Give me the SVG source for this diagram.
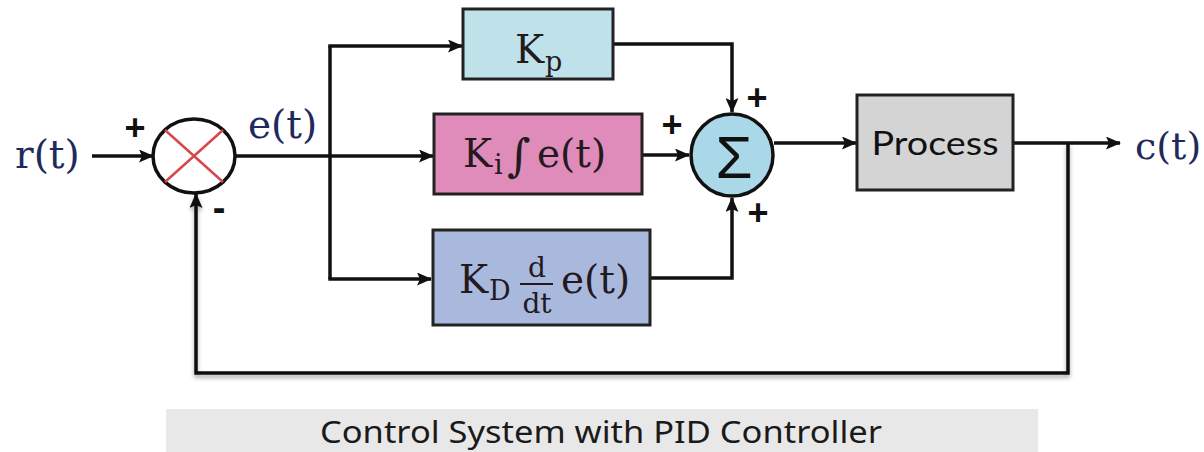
<svg xmlns="http://www.w3.org/2000/svg" width="1204" height="452" viewBox="0 0 1204 452">
<defs>
<style>
.ln{fill:none;stroke:#111;stroke-width:3.5;stroke-linejoin:miter}
.arr{marker-end:url(#ah)}
.box{stroke:#222;stroke-width:3}
.ser{font-family:"DejaVu Serif","Liberation Serif",serif;fill:#241a1e}
.sig{font-family:"DejaVu Serif","Liberation Serif",serif;fill:#1f2a5c}
.pm{font-family:"Liberation Sans",Arial,sans-serif;font-weight:bold;fill:#111;text-anchor:middle}
</style>
<marker id="ah" viewBox="0 0 15 13" refX="14" refY="6.5" markerWidth="15" markerHeight="13" markerUnits="userSpaceOnUse" orient="auto">
<path d="M0,0 L15,6.5 L0,13 L3,6.5 Z" fill="#111"/>
</marker>
<filter id="sh" x="-5%" y="-20%" width="110%" height="140%">
<feDropShadow dx="0" dy="3" stdDeviation="2" flood-color="#000" flood-opacity="0.35"/>
</filter>
</defs>
<rect width="1204" height="452" fill="#fff"/>

<g id="connectors">
<path class="ln arr" d="M92,156 H153"/>
<path class="ln" d="M235,156 H330"/>
<path class="ln arr" d="M330,156 H433"/>
<path class="ln" d="M330,46 V279"/>
<path class="ln arr" d="M328.3,46 H462"/>
<path class="ln arr" d="M328.3,279 H431"/>
<path class="ln arr" d="M613,44 H732 V112"/>
<path class="ln arr" d="M642,155 H689"/>
<path class="ln arr" d="M650,278 H732 V198"/>
<path class="ln arr" d="M774,143 H856"/>
<path class="ln arr" d="M1013,143 H1120"/>
<path class="ln arr" filter="url(#sh)" d="M1068,143 V373 H196 V194"/>
</g>

<g id="label-r">
<text class="sig" x="15" y="168" font-size="39">r(t)</text>
</g>

<g id="comparator">
<ellipse cx="194" cy="156" rx="41" ry="37" fill="#fff" stroke="#111" stroke-width="3.5"/>
<path d="M165,130 L223,182 M223,130 L165,182" stroke="#d7474c" stroke-width="2.5" fill="none"/>
<text class="pm" x="135" y="140" font-size="36">+</text>
<text class="pm" x="219" y="221" font-size="38">-</text>
</g>

<g id="label-e">
<text class="sig" x="248" y="138" font-size="39">e(t)</text>
</g>

<g id="kp">
<rect class="box" x="463" y="9" width="150" height="70" fill="#bfe2ea"/>
<text class="ser" x="515" y="63" font-size="39">K</text>
<text class="ser" x="545" y="71" font-size="27">p</text>
</g>

<g id="ki">
<rect class="box" x="434" y="114" width="208" height="80" fill="#e08cba"/>
<text class="ser" x="463" y="167" font-size="39">K</text>
<text class="ser" x="494" y="174" font-size="27">i</text>
<text class="ser" x="507" y="171" font-size="45">∫</text>
<text class="ser" x="537" y="167" font-size="39">e(t)</text>
</g>

<g id="kd">
<rect class="box" x="433" y="230" width="217" height="95" fill="#a9b9de"/>
<text class="ser" x="459" y="293" font-size="39">K</text>
<text class="ser" x="489" y="300" font-size="27">D</text>
<text class="ser" x="537" y="277" font-size="28" text-anchor="middle">d</text>
<line x1="520" y1="284" x2="553" y2="284" stroke="#241a1e" stroke-width="2"/>
<text class="ser" x="537" y="313" font-size="28" text-anchor="middle">dt</text>
<text class="ser" x="561" y="293" font-size="39">e(t)</text>
</g>

<g id="summer">
<circle cx="732" cy="155" r="41" fill="#aad8e8" stroke="#111" stroke-width="3.5"/>
<text x="734" y="178" font-family="Liberation Sans,Arial,sans-serif" font-size="60" fill="#111" text-anchor="middle">Σ</text>
<text class="pm" x="757" y="110" font-size="36">+</text>
<text class="pm" x="672" y="137" font-size="36">+</text>
<text class="pm" x="758" y="225" font-size="36">+</text>
</g>

<g id="process">
<rect class="box" x="857" y="95" width="156" height="95" fill="#d4d4d4"/>
<text x="935" y="155" font-family="Lato,'Open Sans',sans-serif" font-size="33" fill="#111" text-anchor="middle" textLength="127" lengthAdjust="spacingAndGlyphs">Process</text>
</g>

<g id="label-c">
<text class="sig" x="1135" y="159" font-size="38">c(t)</text>
</g>

<g id="caption">
<rect x="166" y="409" width="872" height="43" fill="#e8e8e8"/>
<text x="601" y="443" font-family="'Noto Sans','Open Sans',sans-serif" font-size="31" fill="#1a1a1a" text-anchor="middle" textLength="562" lengthAdjust="spacingAndGlyphs">Control System with PID Controller</text>
</g>
</svg>
